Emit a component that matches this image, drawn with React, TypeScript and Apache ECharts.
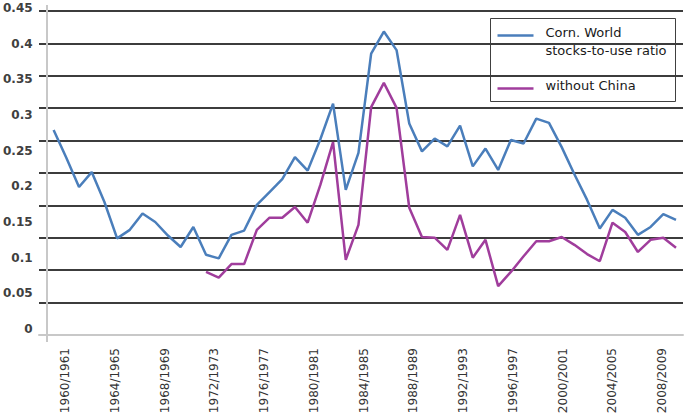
import React, { useEffect, useRef } from "react";
import * as echarts from "echarts";

const categories: string[] = [];
for (let y = 1960; y <= 2009; y++) categories.push(`${y}/${y + 1}`);

const worldRatio = [
  0.279, 0.240, 0.199, 0.220, 0.178, 0.127, 0.139, 0.162, 0.150, 0.131,
  0.115, 0.143, 0.104, 0.099, 0.132, 0.138, 0.174, 0.192, 0.210, 0.241,
  0.222, 0.266, 0.316, 0.195, 0.247, 0.386, 0.417, 0.391, 0.288, 0.249,
  0.267, 0.256, 0.285, 0.228, 0.253, 0.223, 0.265, 0.260, 0.295, 0.289,
  0.255, 0.217, 0.181, 0.141, 0.167, 0.156, 0.132, 0.143, 0.161, 0.153,
];

const withoutChina: (number | null)[] = [
  null, null, null, null, null, null, null, null, null, null,
  null, null, 0.080, 0.072, 0.091, 0.091, 0.139, 0.156, 0.156, 0.171,
  0.149, 0.202, 0.262, 0.097, 0.146, 0.311, 0.345, 0.310, 0.170, 0.129,
  0.128, 0.111, 0.160, 0.100, 0.125, 0.060, 0.080, 0.102, 0.123, 0.123,
  0.129, 0.118, 0.105, 0.095, 0.149, 0.136, 0.108, 0.125, 0.128, 0.114,
];

const seriesNames = ["Corn. World\nstocks-to-use ratio", "without China"];
const colors = ["#4a7ebb", "#a03d9c"];

export default function App() {
  const ref = useRef<HTMLDivElement>(null);
  useEffect(() => {
    if (!ref.current) return;
    const chart = echarts.init(ref.current, undefined, { renderer: "svg" });
    chart.setOption({
      animation: false,
      backgroundColor: "#ffffff",
      grid: [
        { left: 39, right: 2, top: 11, bottom: 83 },
        { left: 53, right: 9, top: 8, bottom: 89 },
        { left: 65, right: 10.4, top: 8, bottom: 83 },
      ],
      xAxis: [
        {
          gridIndex: 0, type: "category", data: categories, boundaryGap: true,
          axisLine: { show: true, lineStyle: { color: "#c8c8c8", width: 2 } },
          axisTick: { show: false }, axisLabel: { show: false }, splitLine: { show: false },
        },
        {
          gridIndex: 1, type: "category", data: categories, boundaryGap: false,
          axisLine: { show: false }, axisTick: { show: false }, axisLabel: { show: false },
          splitLine: { show: false },
        },
        {
          gridIndex: 2, type: "category", data: categories, boundaryGap: false,
          axisLine: { show: false }, axisTick: { show: false }, splitLine: { show: false },
          axisLabel: {
            show: true, interval: 3, rotate: 90, margin: 13,
            fontFamily: "DejaVu Sans", fontSize: 12, color: "#333333",
          },
        },
      ],
      yAxis: [
        {
          gridIndex: 0, type: "value", min: 0, max: 0.5, interval: 0.05,
          axisLine: { show: false }, axisTick: { show: false }, axisLabel: { show: false },
          splitLine: { show: true, showMinLine: false, lineStyle: { color: "#3c3c3c", width: 2 } },
        },
        {
          gridIndex: 1, type: "value", min: 0, max: 0.45, interval: 0.05,
          axisLine: { show: false }, axisTick: { show: false }, splitLine: { show: false },
          axisLabel: {
            show: true, margin: 21, fontFamily: "DejaVu Sans", fontWeight: "bold",
            fontSize: 12, color: "#404040",
            formatter: (v: number) => String(Math.round(v * 100) / 100),
          },
        },
        {
          gridIndex: 2, type: "value", min: 0, max: 1, show: false,
        },
      ],
      series: [
        {
          name: seriesNames[0], type: "line", xAxisIndex: 1, yAxisIndex: 1,
          data: worldRatio, symbol: "none", clip: false,
          lineStyle: { color: colors[0], width: 2.5 }, itemStyle: { color: colors[0] },
        },
        {
          name: seriesNames[1], type: "line", xAxisIndex: 1, yAxisIndex: 1,
          data: withoutChina, symbol: "none", clip: false, connectNulls: false,
          lineStyle: { color: colors[1], width: 2.5 }, itemStyle: { color: colors[1] },
        },
      ],
      graphic: [
        {
          type: "line", shape: { x1: 47, y1: 5, x2: 47, y2: 342 },
          style: { stroke: "#c8c8c8", lineWidth: 2 }, z: 5,
        },
        {
          type: "group", left: 490, top: 18, z: 10,
          children: [
            {
              type: "rect", shape: { x: 0, y: 0, width: 185, height: 83 },
              style: { fill: "#ffffff", stroke: "#404040", lineWidth: 1 },
            },
            {
              type: "line", shape: { x1: 7, y1: 17, x2: 43, y2: 17 },
              style: { stroke: colors[0], lineWidth: 2.5 },
            },
            {
              type: "text", x: 55, y: 14,
              style: {
                text: "Corn. World", fontFamily: "DejaVu Sans", fontSize: 13,
                fill: "#1a1a1a", verticalAlign: "middle", align: "left",
              },
            },
            {
              type: "text", x: 55, y: 32,
              style: {
                text: "stocks-to-use ratio", fontFamily: "DejaVu Sans", fontSize: 13,
                fill: "#1a1a1a", verticalAlign: "middle", align: "left",
              },
            },
            {
              type: "line", shape: { x1: 7, y1: 70, x2: 43, y2: 70 },
              style: { stroke: colors[1], lineWidth: 2.5 },
            },
            {
              type: "text", x: 55, y: 67,
              style: {
                text: "without China", fontFamily: "DejaVu Sans", fontSize: 13,
                fill: "#1a1a1a", verticalAlign: "middle", align: "left",
              },
            },
          ],
        },
      ],
    });
    return () => chart.dispose();
  }, []);
  return (
    <div
      ref={ref}
      style={{ position: "fixed", left: 0, top: 0, width: 685, height: 418, background: "#fff" }}
    />
  );
}
